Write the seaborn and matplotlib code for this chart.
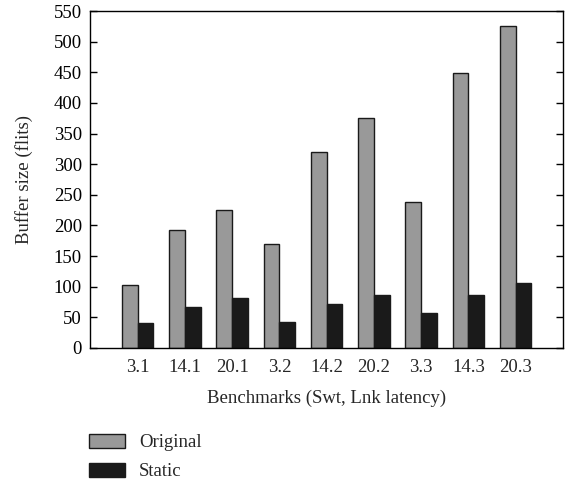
import matplotlib
matplotlib.use("Agg")
import matplotlib.pyplot as plt
import seaborn as sns
import pandas as pd
from matplotlib.patches import Patch

benchmarks = ["3.1", "14.1", "20.1", "3.2", "14.2", "20.2", "3.3", "14.3", "20.3"]
original = [102, 193, 225, 170, 320, 376, 239, 449, 526]
static = [40, 67, 81, 42, 72, 86, 57, 86, 106]
series = ["Original", "Static"]
yticks = [0, 50, 100, 150, 200, 250, 300, 350, 400, 450, 500, 550]

df = pd.DataFrame({
    "Benchmark": benchmarks * 2,
    "Value": original + static,
    "Series": [series[0]] * len(benchmarks) + [series[1]] * len(benchmarks),
})

sns.set_style("white")
plt.rcParams["font.family"] = ["Liberation Serif", "DejaVu Serif"]
FS = 13.5

fig = plt.figure(figsize=(5.68, 4.79), dpi=100)
ax = fig.add_axes([0.159, 0.2735, 0.832, 0.7035])

sns.barplot(data=df, x="Benchmark", y="Value", hue="Series", order=benchmarks,
            hue_order=series, palette=["#999999", "#1a1a1a"], width=0.67,
            edgecolor="#1a1a1a", linewidth=1.0, ax=ax, legend=False, saturation=1)

ax.set_xlim(-1, 9)
ax.set_ylim(0, 550)
ax.set_yticks(yticks)
ax.tick_params(axis="y", direction="in", length=5, width=1, labelsize=FS,
               left=True, right=True, colors="black", pad=6)
ax.tick_params(axis="x", length=0, labelsize=FS, pad=8)
for s in ax.spines.values():
    s.set_visible(True)
    s.set_color("black")
    s.set_linewidth(1.0)
ax.set_xlabel("Benchmarks (Swt, Lnk latency)", fontsize=FS, labelpad=10)
ax.set_ylabel("Buffer size (flits)", fontsize=FS, labelpad=15)

handles = [Patch(facecolor="#999999", edgecolor="#1a1a1a"),
           Patch(facecolor="#1a1a1a", edgecolor="#1a1a1a")]
fig.legend(handles, series, loc="upper left", bbox_to_anchor=(0.156, 0.094),
           bbox_transform=fig.transFigure, frameon=False, fontsize=FS,
           handlelength=1.95, handleheight=0.75, labelspacing=0.62, handletextpad=0.75,
           borderaxespad=0, borderpad=0)

fig.savefig("out.png", dpi=100)
